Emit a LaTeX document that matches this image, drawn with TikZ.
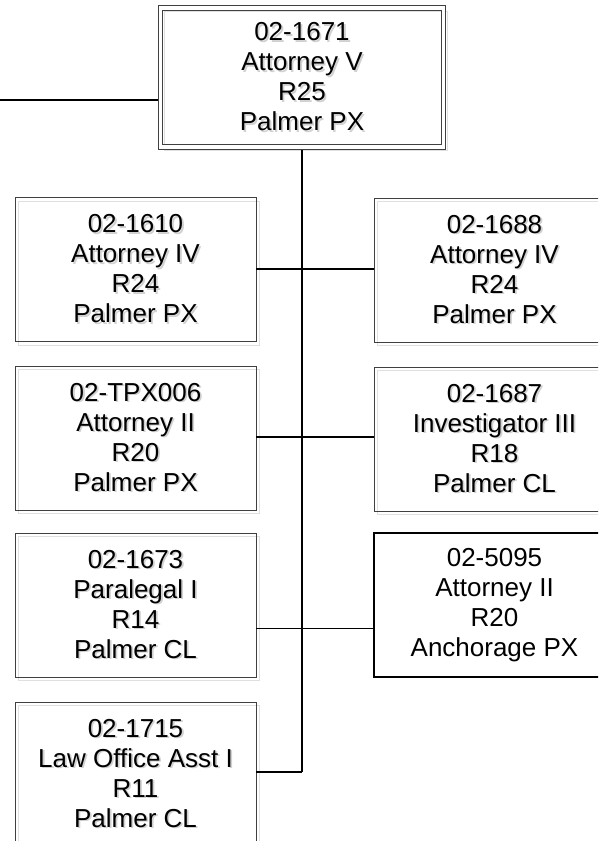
\documentclass[tikz,border=0pt]{standalone}
\usepackage{fontspec}
\setmainfont{Liberation Sans}
\usetikzlibrary{shadows}
\newcommand{\shtxt}[1]{\leavevmode\rlap{\kern1.8pt\raisebox{-1.8pt}{\textcolor{black!18}{#1}}}#1}
\newcommand{\posn}[4]{\shtxt{#1}\\\shtxt{#2}\\\shtxt{#3}\\\shtxt{#4}}

\begin{document}
\begin{tikzpicture}[x=1pt,y=-1pt,
  every node/.style={align=center,font=\fontsize{26}{30}\selectfont,inner sep=0pt,outer sep=0pt},
  posbox/.style={draw=black!75,line width=1pt,minimum width=241pt,minimum height=144pt,
    drop shadow={shadow xshift=3.5pt,shadow yshift=-3.5pt,fill=none,draw=black!12,opacity=1}},
  topbox/.style={posbox,double,double distance=3.5pt,minimum width=283pt,minimum height=139pt,outer sep=2.5pt},
  plainbox/.style={draw=black,line width=1.4pt,minimum width=241pt,minimum height=144pt},
  link/.style={draw=black,line width=1.2pt}]
  \useasboundingbox (0,0) rectangle (598,841);
  \clip (0,0) rectangle (598,841);

  \node[topbox] (atty5) at (302,77.5) {\posn{02-1671}{Attorney V}{R25}{Palmer PX}};

  \node[posbox] (l1) at (135.5,269.5) {\posn{02-1610}{Attorney IV}{R24}{Palmer PX}};
  \node[posbox] (l2) at (135.5,438) {\posn{02-TPX006}{Attorney II}{R20}{Palmer PX}};
  \node[posbox] (l3) at (135.5,605) {\posn{02-1673}{Paralegal I}{R14}{Palmer CL}};
  \node[posbox] (l4) at (135.5,774) {\posn{02-1715}{Law Office Asst I}{R11}{Palmer CL}};

  \node[posbox] (r1) at (494.5,270) {\posn{02-1688}{Attorney IV}{R24}{Palmer PX}};
  \node[posbox] (r2) at (494.5,439) {\posn{02-1687}{Investigator III}{R18}{Palmer CL}};
  \node[plainbox] (r3) at (494.5,605) {02-5095\\Attorney II\\R20\\Anchorage PX};

  \coordinate (boss) at (0,100);
  \coordinate (j1) at (302,269);
  \coordinate (j2) at (302,437);
  \coordinate (j3) at (302,628.5);
  \coordinate (spineend) at (302,772);

  \draw[link] (boss) -- (boss -| atty5.west);
  \draw[link] (atty5.south) -- (spineend);
  \draw[link] (l1.east |- j1) -- (r1.west |- j1);
  \draw[link] (l2.east |- j2) -- (r2.west |- j2);
  \draw[link] (l3.east |- j3) -- (r3.west |- j3);
  \draw[link] (l4.east |- spineend) -- (spineend);
\end{tikzpicture}
\end{document}
